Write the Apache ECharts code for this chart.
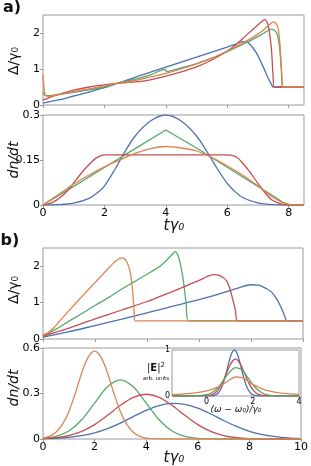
<!DOCTYPE html>
<html><head><meta charset="utf-8">
<script src="https://cdn.jsdelivr.net/npm/echarts@6/dist/echarts.min.js"></script>
<style>html,body{margin:0;padding:0;background:#fff}#c{width:311px;height:466px}</style>
</head><body><div id="c"></div>
<script>
// ---------- Panel a), top: Delta/gamma0 vs t*gamma0 ----------
const aTopBlueT = [0,0.5,1,1.5,2,2.5,3,3.5,4,4.5,5,5.5,6,6.3,6.5,6.6,6.72,6.94,7.16,7.32,7.46,7.5,8.5];
const aTopBlueV = [0.05,0.14,0.25,0.36,0.48,0.62,0.77,0.91,1.05,1.19,1.33,1.47,1.61,1.7,1.76,1.76,1.7,1.46,1.08,0.77,0.54,0.5,0.5];
const aTopGreenT = [0,0.03,0.08,0.2,0.5,1,1.5,2,2.4,3,3.5,3.98,4.02,4.5,5,5.5,6,6.5,7,7.2,7.44,7.55,7.62,7.68,7.73,7.77,7.8,8.5];
const aTopGreenV = [0.35,0.3,0.26,0.26,0.29,0.35,0.42,0.5,0.6,0.72,0.84,0.99,0.93,1.03,1.15,1.3,1.48,1.68,1.9,2.0,2.11,2.07,1.97,1.75,1.35,0.85,0.5,0.5];
const aTopRedT = [0,0.25,0.5,1,1.5,2,2.4,3,3.5,4,4.5,5,5.5,6,6.3,6.6,6.9,7.1,7.22,7.3,7.36,7.44,7.49,7.54,8.5];
const aTopRedV = [0.14,0.22,0.29,0.41,0.5,0.56,0.6,0.64,0.7,0.8,0.92,1.06,1.25,1.5,1.69,1.92,2.15,2.3,2.37,2.3,2.1,1.55,0.85,0.5,0.5];
const aTopOrangeT = [0,0.02,0.05,0.1,0.2,0.5,1,1.5,2,2.4,3,3.5,4,4.5,5,5.5,6,6.5,7,7.2,7.4,7.49,7.58,7.65,7.7,7.74,7.78,7.8,8.5];
const aTopOrangeV = [0.85,0.6,0.35,0.25,0.24,0.29,0.37,0.45,0.53,0.6,0.68,0.78,0.88,1.0,1.14,1.3,1.5,1.72,1.97,2.1,2.25,2.3,2.27,2.15,1.85,1.4,0.8,0.5,0.5];

// ---------- Panel a), bottom: dn/dt ----------
const aBotBlueT = [0,0.5,1,1.5,1.8,2,2.35,2.6,3,3.5,4,4.5,5,5.4,5.65,6,6.2,6.5,7,7.5,8,8.5];
const aBotBlueV = [0,0.001,0.006,0.022,0.043,0.063,0.12,0.166,0.23,0.28,0.3,0.28,0.23,0.168,0.125,0.072,0.05,0.025,0.007,0.001,0,0];
const aBotGreenT = [0,1,2,3,4,5,6,7,7.5,7.8,8,8.5];
const aBotGreenV = [0,0.062,0.125,0.188,0.25,0.19,0.126,0.062,0.03,0.01,0.002,0];
const aBotRedT = [0,0.3,0.6,0.9,1.2,1.5,1.75,2,2.2,4,5.9,6.1,6.3,6.5,6.73,7,7.27,7.5,7.8,8,8.5];
const aBotRedV = [0,0.008,0.028,0.06,0.1,0.135,0.158,0.167,0.167,0.167,0.167,0.166,0.16,0.14,0.111,0.072,0.036,0.014,0.002,0,0];
const aBotOrangeT = [0,0.5,1,1.5,2,2.5,3,3.5,4,4.5,5,5.5,6,6.5,7,7.27,7.5,7.8,8,8.5];
const aBotOrangeV = [0,0.035,0.07,0.1,0.127,0.15,0.172,0.188,0.195,0.19,0.18,0.158,0.13,0.1,0.063,0.042,0.025,0.008,0.002,0];

// ---------- Panel b), top: Delta/gamma0 ----------
const bTopBlueT = [0,1,2,3,4,4.5,5,5.5,6,6.5,7,7.5,8,8.3,8.6,8.8,8.99,9.12,9.24,9.32,9.37,10];
const bTopBlueV = [0.05,0.2,0.37,0.54,0.72,0.81,0.9,0.99,1.08,1.18,1.29,1.4,1.49,1.48,1.38,1.28,1.1,0.92,0.73,0.58,0.5,0.5];
const bTopGreenT = [0,0.5,1,1.5,2,2.5,3,3.5,4,4.5,4.8,5.0,5.08,5.2,5.3,5.4,5.5,5.59,10];
const bTopGreenV = [0.07,0.27,0.49,0.7,0.92,1.13,1.36,1.57,1.78,2.0,2.2,2.35,2.4,2.28,2.0,1.6,1.0,0.5,0.5];
const bTopRedT = [0,1,2,3,4,4.5,5,5.5,6,6.3,6.55,6.8,7.06,7.2,7.3,7.4,7.49,10];
const bTopRedV = [0.08,0.3,0.55,0.79,1.03,1.17,1.31,1.46,1.61,1.71,1.77,1.74,1.6,1.35,1.08,0.8,0.5,0.5];
const bTopOrangeT = [0,0.2,0.4,0.6,0.8,1,1.5,2,2.5,2.8,3.03,3.2,3.35,3.45,3.5,3.54,10];
const bTopOrangeV = [0.12,0.18,0.3,0.46,0.62,0.78,1.17,1.55,1.93,2.14,2.23,2.15,1.85,1.3,0.8,0.5,0.5];

// ---------- Panel b), bottom: dn/dt ----------
const bBotT = [0,0.5,1,1.5,2,2.5,3,3.5,4,4.5,5,5.5,6,6.5,7,7.5,8,8.5,9,9.5,10];
const bBotBlueV = [0.002,0.005,0.011,0.022,0.041,0.069,0.105,0.148,0.189,0.22,0.235,0.228,0.203,0.165,0.122,0.083,0.051,0.029,0.015,0.007,0.003];
const bBotGreenV = [0.004,0.017,0.053,0.127,0.237,0.344,0.39,0.344,0.237,0.127,0.053,0.017,0.004,0.001,0,0,0,0,0,0,0];
const bBotRedV = [0.003,0.009,0.023,0.05,0.095,0.156,0.222,0.275,0.295,0.275,0.222,0.156,0.095,0.05,0.023,0.009,0.003,0.001,0,0,0];
const bBotOrangeT = [0,0.25,0.5,0.75,1,1.25,1.5,1.75,2,2.25,2.5,2.75,3,3.25,3.5,3.75,4,4.5,5,10];
const bBotOrangeV = [0.006,0.017,0.044,0.096,0.18,0.3,0.435,0.54,0.58,0.54,0.435,0.3,0.18,0.096,0.044,0.017,0.006,0.001,0,0];

// ---------- Inset: |E|^2 vs (omega-omega0)/gamma0 ----------
const insBlueF = [-1.5,0.2,0.3,0.4,0.5,0.6,0.7,0.8,0.9,1.0,1.1,1.2,1.3,1.4,1.5,1.6,1.7,1.8,1.9,2.0,2.1,2.2,4];
const insBlueV = [0,0.004,0.011,0.028,0.066,0.135,0.249,0.411,0.607,0.801,0.946,1,0.946,0.801,0.607,0.411,0.249,0.135,0.066,0.028,0.011,0.004,0];
const insRedF = [-1.5,0,0.125,0.25,0.375,0.5,0.625,0.75,0.875,1,1.125,1.25,1.375,1.5,1.625,1.75,1.875,2,2.125,2.25,2.5,4];
const insRedV = [0,0.006,0.015,0.035,0.073,0.138,0.236,0.366,0.515,0.658,0.762,0.8,0.762,0.658,0.515,0.366,0.236,0.138,0.073,0.035,0.006,0];
const insGreenF = [-1.5,-0.5,0,0.25,0.5,0.75,1,1.25,1.5,1.75,2,2.25,2.5,3,4];
const insGreenV = [0,0.002,0.027,0.08,0.19,0.354,0.525,0.617,0.576,0.426,0.25,0.117,0.043,0.003,0];
const insOrangeF = [-1.5,-1,-0.5,0,0.5,0.75,1,1.25,1.5,1.75,2,2.5,3,3.5,4];
const insOrangeV = [0.031,0.044,0.066,0.109,0.197,0.269,0.353,0.413,0.406,0.336,0.253,0.137,0.08,0.051,0.035];

// ---------- tick labels ----------
const aXTicks = [0,2,4,6,8];
const bXTicks = [0,2,4,6,8,10];
const deltaYTicks = [0,1,2];
const aDnYTicks = [0,0.15,0.3];
const bDnYTicks = [0,0.3,0.6];
const insXTicks = [0,2,4];
const insYTicks = [0,1];

const C = {blue:'#4c72b0', orange:'#dd8452', green:'#55a868', red:'#c44e52'};
const FONT = 'DejaVu Sans';
const GRAY = '#999';

function zip(t,v){return t.map((x,i)=>[x,v[i]]);}

const chart = echarts.init(document.getElementById('c'), null, {renderer:'canvas'});

const grids = [
  {left:43, top:15, width:261, height:90},
  {left:43, top:115, width:261, height:90},
  {left:43, top:248, width:260, height:91},
  {left:43, top:348, width:260, height:91},
  {left:172, top:350, width:127, height:46, z:10}
].map(g=>Object.assign({show:true, borderColor:GRAY, borderWidth:1, backgroundColor:'#fff', containLabel:false}, g));

function xAx(i, min, max, ticks, showLabel, fs){
  return {type:'value', gridIndex:i, min, max,
    axisLine:{show:false}, splitLine:{show:false},
    axisTick:{show:true, inside:false, length: i===4?2:3, lineStyle:{color:GRAY}, customValues:ticks},
    axisLabel:{show:showLabel, customValues:ticks, color:'#000', fontFamily:FONT, fontSize:fs||11, margin: i===4?2:3}};
}
function yAx(i, min, max, ticks, fs){
  return {type:'value', gridIndex:i, min, max,
    axisLine:{show:false}, splitLine:{show:false},
    axisTick:{show:true, inside:false, length: i===4?2:3, lineStyle:{color:GRAY}, customValues:ticks},
    axisLabel:{show:true, customValues:ticks, color:'#000', fontFamily:FONT, fontSize:fs||11, margin: i===4?2:3}};
}

function line(i, t, v, color, smooth){
  return {type:'line', xAxisIndex:i, yAxisIndex:i, data:zip(t,v), symbol:'none', showSymbol:false,
    smooth: smooth===false?false:0.3, lineStyle:{color, width:1.3}, itemStyle:{color},
    z: i===4?12:2, silent:true};
}

const series = [
  line(0,aTopBlueT,aTopBlueV,C.blue), line(0,aTopGreenT,aTopGreenV,C.green), line(0,aTopRedT,aTopRedV,C.red), line(0,aTopOrangeT,aTopOrangeV,C.orange),
  line(1,aBotBlueT,aBotBlueV,C.blue), line(1,aBotGreenT,aBotGreenV,C.green,false), line(1,aBotRedT,aBotRedV,C.red), line(1,aBotOrangeT,aBotOrangeV,C.orange),
  line(2,bTopBlueT,bTopBlueV,C.blue), line(2,bTopGreenT,bTopGreenV,C.green), line(2,bTopRedT,bTopRedV,C.red), line(2,bTopOrangeT,bTopOrangeV,C.orange),
  line(3,bBotT,bBotBlueV,C.blue), line(3,bBotT,bBotGreenV,C.green), line(3,bBotT,bBotRedV,C.red), line(3,bBotOrangeT,bBotOrangeV,C.orange),
  line(4,insBlueF,insBlueV,C.blue), line(4,insRedF,insRedV,C.red), line(4,insGreenF,insGreenV,C.green), line(4,insOrangeF,insOrangeV,C.orange)
];

function txt(x,y,text,opt){
  return {type:'text', x, y, rotation: opt.rot||0, z:50, silent:true,
    style:Object.assign({text, fill:'#111', font: opt.font, textAlign:'center', textVerticalAlign:'middle'}, opt.style||{})};
}

const graphic = [
  txt(12,8,'a)',{font:'bold 16px DejaVu Sans'}),
  txt(10,241,'b)',{font:'bold 16px DejaVu Sans'}),
  txt(14,61,'Δ/γ₀',{font:'14px DejaVu Sans', rot:Math.PI/2}),
  txt(14,160,'dn/dt',{font:'italic 14px DejaVu Sans', rot:Math.PI/2}),
  txt(14,290,'Δ/γ₀',{font:'14px DejaVu Sans', rot:Math.PI/2}),
  txt(14,388,'dn/dt',{font:'italic 14px DejaVu Sans', rot:Math.PI/2}),
  txt(174,226,'tγ₀',{font:'italic 15px DejaVu Sans'}),
  txt(174,458,'tγ₀',{font:'italic 15px DejaVu Sans'}),
  txt(236,410,'(ω − ω₀)/γ₀',{font:'italic 9px DejaVu Sans'}),
  {type:'text', x:156, y:368, z:50, silent:true, style:{
    text:'{n||}{b|E}{n||}{s|2}', textAlign:'center', textVerticalAlign:'middle', fill:'#111',
    rich:{n:{fontFamily:FONT, fontSize:10, fill:'#111'}, b:{fontFamily:FONT, fontSize:10, fontWeight:'bold', fill:'#111'}, s:{fontFamily:FONT, fontSize:7, fill:'#111', padding:[0,0,5,0]}}}},
  txt(156,379,'arb. units',{font:'5.5px DejaVu Sans'})
];

chart.setOption({
  animation:false,
  grid: grids,
  xAxis:[xAx(0,0,8.5,aXTicks,false), xAx(1,0,8.5,aXTicks,true), xAx(2,0,10,bXTicks,false), xAx(3,0,10,bXTicks,true), xAx(4,-1.5,4,insXTicks,true,8)],
  yAxis:[yAx(0,0,2.5,deltaYTicks), yAx(1,0,0.3,aDnYTicks), yAx(2,0,2.5,deltaYTicks), yAx(3,0,0.6,bDnYTicks), yAx(4,0,1,insYTicks,8)],
  series,
  graphic
});
</script></body></html>
